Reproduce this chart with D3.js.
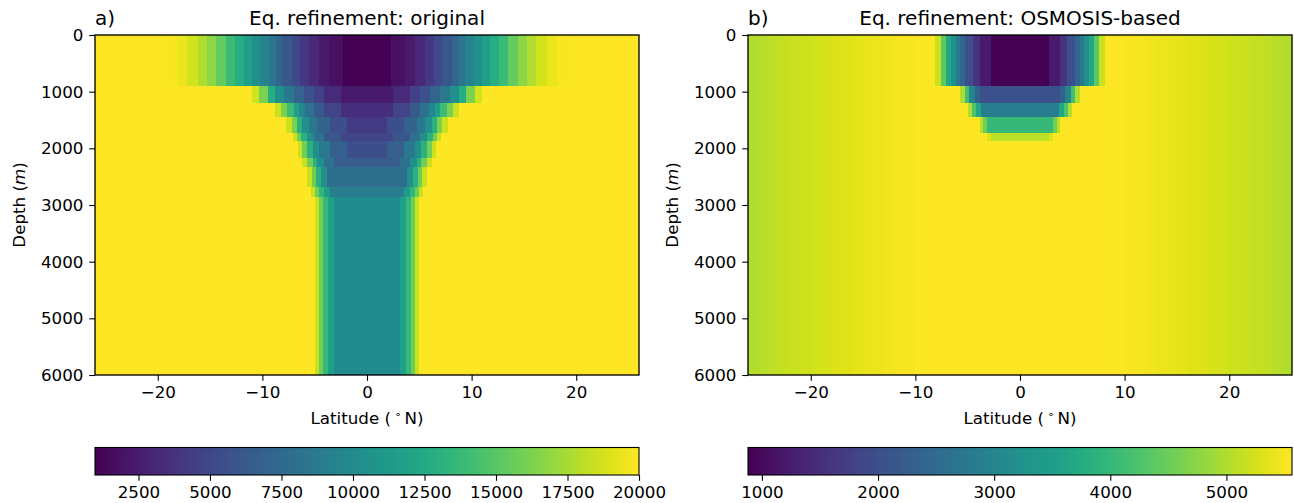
<!DOCTYPE html>
<html>
<head>
<meta charset="utf-8">
<script src="https://cdn.jsdelivr.net/npm/d3@7"></script>
<style>
    body { margin: 0; background: #fff; }
    text { font-family: "DejaVu Sans", sans-serif; }
</style>
</head>
<body>
<svg id="fig"></svg>
<script>
// depth levels (m) bounding each layer of the field
var depthEdges = [0, 900, 1194, 1441, 1724, 1865, 2176, 2335, 2676, 2853, 6000];

// field is symmetric about the equator: for each layer, the outer latitude of every band
// (from the equator outward) and the value inside it. outside the bands -> background
var origLatEdges = [
    [2.3, 3.6, 4.6, 5.5, 6.4, 7.2, 8.1, 8.7, 9.4, 10.2, 11.0, 11.8, 12.6, 13.5, 14.4, 15.3, 16.2, 17.2, 18.2, 19.1],
    [2.5, 4.1, 5.1, 6.0, 7.0, 7.9, 8.8, 9.5, 10.3, 11.0],
    [2.5, 4.1, 5.1, 5.9, 6.5, 7.0, 7.6, 8.2, 8.8],
    [1.9, 3.5, 4.8, 5.5, 6.2, 6.7, 7.2, 7.7],
    [2.5, 4.1, 5.1, 5.7, 6.3, 6.7, 7.1],
    [1.9, 3.5, 4.6, 5.2, 5.7, 6.2, 6.6],
    [3.2, 4.1, 4.8, 5.2, 5.7, 6.2],
    [3.8, 4.4, 4.9, 5.3, 5.7],
    [3.5, 4.1, 4.6, 5.0, 5.4],
    [3.2, 3.75, 4.2, 4.6, 4.97]
];
var origValues = [
    [980, 1740, 2310, 3070, 4025, 5165, 6115, 7260, 8400, 9540, 10490, 11630, 12770, 13915, 15435, 16770, 17720, 18670, 19430, 19810],
    [2310, 3260, 4595, 5735, 7065, 8590, 10490, 12770, 16195, 18670],
    [3455, 4785, 6305, 8020, 9730, 11630, 13915, 16195, 18480],
    [4215, 5545, 6875, 8590, 10490, 13155, 16195, 18480],
    [4785, 6115, 8020, 10490, 13155, 15815, 18480],
    [5545, 6685, 8590, 10490, 13155, 15815, 18480],
    [6495, 8020, 10490, 13155, 15815, 18480],
    [7830, 10490, 13155, 15815, 18480],
    [8970, 11440, 13535, 15815, 18480],
    [10110, 11820, 13725, 15815, 18480]
];
var origBgEdges = [26];
var origBgValues = [20000];

var osmoLatEdges = [
    [2.74, 3.86, 4.49, 5.29, 5.77, 6.09, 6.63, 7.04, 7.59, 8.16],
    [3.86, 4.34, 4.91, 5.29, 5.7],
    [3.7, 4.17, 4.59, 4.97],
    [3.12, 3.54, 3.86],
    [2.74, 3.12]
];
var osmoValues = [
    [880, 1208, 1583, 2004, 2426, 2754, 3223, 3691, 4394, 5190],
    [2051, 2332, 2988, 4160, 5003],
    [2848, 3691, 4253, 5003],
    [4019, 4534, 5096],
    [5096, 5330]
];
// depth independent background of panel b)
var osmoBgEdges = [8, 9, 10, 11, 12, 13, 14, 15, 16, 17, 18, 19, 20, 21, 22, 23, 24, 25, 26];
var osmoBgValues = [5565, 5556, 5542, 5518, 5495, 5462, 5434, 5406, 5378, 5345, 5312, 5279, 5247, 5214, 5181, 5148, 5115, 5065, 5030];

var latTicks = [-20, -10, 0, 10, 20];
var depthTicks = [0, 1000, 2000, 3000, 4000, 5000, 6000];
var origCbTicks = [2500, 5000, 7500, 10000, 12500, 15000, 17500, 20000];
var osmoCbTicks = [1000, 2000, 3000, 4000, 5000];

var svg = d3.select("#fig").attr("width", 1294).attr("height", 503);
var fontSize = 16.7;
var tickLen = 5.8;

drawPanel({
    id: "a", left: 95, right: 639, label: "a)", title: "Eq. refinement: original",
    bgEdges: origBgEdges, bgValues: origBgValues,
    latEdges: origLatEdges, values: origValues,
    vmin: 980, vmax: 20000, cbTicks: origCbTicks
});
drawPanel({
    id: "b", left: 748, right: 1292, label: "b)", title: "Eq. refinement: OSMOSIS-based",
    bgEdges: osmoBgEdges, bgValues: osmoBgValues,
    latEdges: osmoLatEdges, values: osmoValues,
    vmin: 880, vmax: 5565, cbTicks: osmoCbTicks
});

function minusFormat(d) {
    return d < 0 ? "\u2212" + Math.abs(d) : "" + d;
}

function styleAxis(g) {
    g.attr("font-family", "DejaVu Sans").attr("font-size", fontSize);
    g.selectAll(".tick line").attr("stroke", "#000").attr("stroke-width", 1.1);
    g.selectAll(".tick text").attr("fill", "#000");
    g.select(".domain").remove();
}

function drawPanel(p) {
    var top = 35, bottom = 375;
    var x = d3.scaleLinear().domain([-26, 26]).range([p.left, p.right]);
    var y = d3.scaleLinear().domain([0, 6000]).range([top, bottom]);
    var color = d3.scaleSequential(d3.interpolateViridis).domain([p.vmin, p.vmax]);

    svg.append("clipPath").attr("id", "clip" + p.id)
        .append("rect")
        .attr("x", p.left).attr("y", top)
        .attr("width", p.right - p.left).attr("height", bottom - top);

    var field = svg.append("g")
        .attr("clip-path", "url(#clip" + p.id + ")")
        .attr("shape-rendering", "crispEdges");

    // background bands, outermost first so the inner ones paint over
    for (var b = p.bgEdges.length - 1; b >= 0; b--) {
        field.append("rect")
            .attr("x", x(-p.bgEdges[b]))
            .attr("width", x(p.bgEdges[b]) - x(-p.bgEdges[b]))
            .attr("y", y(0))
            .attr("height", y(6000) - y(0))
            .attr("fill", color(p.bgValues[b]));
    }

    for (var i = 0; i < p.latEdges.length; i++) {
        var edges = p.latEdges[i];
        for (var j = edges.length - 1; j >= 0; j--) {
            field.append("rect")
                .attr("x", x(-edges[j]))
                .attr("width", x(edges[j]) - x(-edges[j]))
                .attr("y", y(depthEdges[i]))
                .attr("height", y(depthEdges[i + 1]) - y(depthEdges[i]))
                .attr("fill", color(p.values[i][j]));
        }
    }

    // axes
    var xa = svg.append("g")
        .attr("transform", "translate(0," + bottom + ")")
        .call(d3.axisBottom(x).tickValues(latTicks).tickSize(tickLen).tickPadding(5.4).tickFormat(minusFormat));
    styleAxis(xa);

    var ya = svg.append("g")
        .attr("transform", "translate(" + p.left + ",0)")
        .call(d3.axisLeft(y).tickValues(depthTicks).tickSize(tickLen).tickPadding(5.8).tickFormat(d3.format("d")));
    styleAxis(ya);

    svg.append("rect")
        .attr("x", p.left).attr("y", top)
        .attr("width", p.right - p.left).attr("height", bottom - top)
        .attr("fill", "none").attr("stroke", "#000").attr("stroke-width", 1.33);

    // titles and labels
    svg.append("text")
        .attr("x", (p.left + p.right) / 2).attr("y", 25)
        .attr("text-anchor", "middle")
        .style("font-size", "20px")
        .text(p.title);
    svg.append("text")
        .attr("x", p.left).attr("y", 25)
        .style("font-size", "20px")
        .text(p.label);

    var xl = svg.append("text")
        .attr("x", (p.left + p.right) / 2).attr("y", 424)
        .attr("text-anchor", "middle")
        .style("font-size", fontSize + "px");
    xl.append("tspan").text("Latitude (\u2009");
    xl.append("tspan").attr("dy", -6).style("font-size", "11px").text("\u2218");
    xl.append("tspan").attr("dy", 6).text("\u2009N)");

    var yl = svg.append("text")
        .attr("transform", "translate(" + (p.left - 70) + "," + ((top + bottom) / 2) + ") rotate(-90)")
        .attr("text-anchor", "middle")
        .style("font-size", fontSize + "px");
    yl.append("tspan").text("Depth (");
    yl.append("tspan").style("font-style", "italic").text("m");
    yl.append("tspan").text(")");

    // colorbar
    var cbTop = 447.5, cbH = 27.5;
    var cb = d3.scaleLinear().domain([p.vmin, p.vmax]).range([p.left, p.right]);
    var grad = svg.append("defs").append("linearGradient")
        .attr("id", "grad" + p.id)
        .attr("x1", "0%").attr("x2", "100%").attr("y1", "0%").attr("y2", "0%");
    d3.range(0, 1.0001, 0.05).forEach(function (t) {
        grad.append("stop")
            .attr("offset", (t * 100) + "%")
            .attr("stop-color", d3.interpolateViridis(t));
    });
    svg.append("rect")
        .attr("x", p.left).attr("y", cbTop)
        .attr("width", p.right - p.left).attr("height", cbH)
        .attr("fill", "url(#grad" + p.id + ")")
        .attr("stroke", "#000").attr("stroke-width", 1.1);

    var ca = svg.append("g")
        .attr("transform", "translate(0," + (cbTop + cbH) + ")")
        .call(d3.axisBottom(cb).tickValues(p.cbTicks).tickSize(tickLen).tickPadding(5.4).tickFormat(d3.format("d")));
    styleAxis(ca);
}
</script>
</body>
</html>
